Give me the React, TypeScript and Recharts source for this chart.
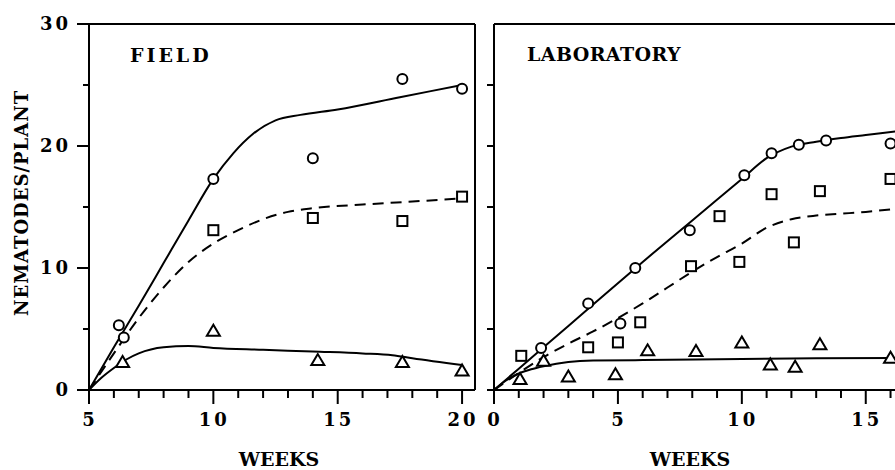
import React from 'react';
import { ComposedChart, Line, Scatter, XAxis, YAxis, ReferenceLine } from 'recharts';

// ---- FIELD panel (weeks 5-20) ----
const fieldWeekTicks = [5, 6, 7, 8, 9, 10, 11, 12, 13, 14, 15, 16, 17, 18, 19, 20];
const fieldCircles = [
  { x: 6.2, y: 5.3 }, { x: 6.4, y: 4.3 }, { x: 10, y: 17.3 },
  { x: 14, y: 19.0 }, { x: 17.6, y: 25.5 }, { x: 20, y: 24.7 },
];
const fieldSquares = [
  { x: 10, y: 13.1 }, { x: 14, y: 14.1 }, { x: 17.6, y: 13.85 }, { x: 20, y: 15.85 },
];
const fieldTriangles = [
  { x: 6.35, y: 2.3 }, { x: 10, y: 4.85 }, { x: 14.2, y: 2.45 }, { x: 17.6, y: 2.3 }, { x: 20, y: 1.6 },
];
const fieldCircleCurve = [
  { x: 5, y: 0 }, { x: 6, y: 3.5 }, { x: 7, y: 6.9 }, { x: 8, y: 10.4 }, { x: 9, y: 13.9 },
  { x: 10, y: 17.3 }, { x: 10.8, y: 19.4 }, { x: 11.6, y: 21.0 }, { x: 12.5, y: 22.1 },
  { x: 13.5, y: 22.55 }, { x: 15, y: 23.0 }, { x: 17.5, y: 24.0 }, { x: 20, y: 25.0 },
];
const fieldSquareCurve = [
  { x: 5, y: 0 }, { x: 6, y: 3.0 }, { x: 7, y: 5.9 }, { x: 8, y: 8.4 }, { x: 9, y: 10.5 },
  { x: 10, y: 12.0 }, { x: 11, y: 13.1 }, { x: 12, y: 14.0 }, { x: 13, y: 14.6 },
  { x: 14, y: 14.9 }, { x: 16, y: 15.2 }, { x: 18, y: 15.45 }, { x: 20, y: 15.7 },
];
const fieldTriangleCurve = [
  { x: 5, y: 0 }, { x: 5.5, y: 1.0 }, { x: 6, y: 1.8 }, { x: 6.5, y: 2.5 }, { x: 7, y: 3.0 },
  { x: 8, y: 3.5 }, { x: 9, y: 3.6 }, { x: 10, y: 3.45 }, { x: 12, y: 3.3 }, { x: 14, y: 3.15 },
  { x: 16, y: 3.0 }, { x: 17.2, y: 2.85 }, { x: 18, y: 2.6 }, { x: 20, y: 2.05 },
];

// ---- LABORATORY panel (weeks 0-16) ----
const labWeekTicks = [0, 1, 2, 3, 4, 5, 6, 7, 8, 9, 10, 11, 12, 13, 14, 15, 16];
const labCircles = [
  { x: 1.9, y: 3.45 }, { x: 3.8, y: 7.1 }, { x: 5.1, y: 5.45 }, { x: 5.7, y: 10.0 },
  { x: 7.9, y: 13.1 }, { x: 10.1, y: 17.6 }, { x: 11.2, y: 19.4 }, { x: 12.3, y: 20.1 },
  { x: 13.4, y: 20.45 }, { x: 16, y: 20.2 },
];
const labSquares = [
  { x: 1.1, y: 2.8 }, { x: 3.8, y: 3.5 }, { x: 5.0, y: 3.9 }, { x: 5.9, y: 5.55 },
  { x: 7.95, y: 10.15 }, { x: 9.1, y: 14.25 }, { x: 9.9, y: 10.5 }, { x: 11.2, y: 16.05 },
  { x: 12.1, y: 12.1 }, { x: 13.15, y: 16.3 }, { x: 16, y: 17.3 },
];
const labTriangles = [
  { x: 1.05, y: 0.9 }, { x: 2.0, y: 2.4 }, { x: 3.0, y: 1.1 }, { x: 4.9, y: 1.3 },
  { x: 6.2, y: 3.25 }, { x: 8.15, y: 3.2 }, { x: 10, y: 3.9 }, { x: 11.15, y: 2.1 },
  { x: 12.15, y: 1.9 }, { x: 13.15, y: 3.75 }, { x: 16, y: 2.65 },
];
const labCircleCurve = [
  { x: 0, y: 0 }, { x: 2, y: 3.5 }, { x: 4, y: 7.0 }, { x: 6, y: 10.5 }, { x: 8, y: 13.9 },
  { x: 10, y: 17.3 }, { x: 11, y: 19.0 }, { x: 12, y: 19.95 }, { x: 13, y: 20.35 },
  { x: 14, y: 20.65 }, { x: 15, y: 20.9 }, { x: 16.2, y: 21.2 },
];
const labSquareCurve = [
  { x: 0, y: 0 }, { x: 1, y: 1.4 }, { x: 2, y: 2.7 }, { x: 3, y: 3.8 }, { x: 4, y: 4.8 },
  { x: 5, y: 5.9 }, { x: 6, y: 7.1 }, { x: 7, y: 8.4 }, { x: 8, y: 9.7 }, { x: 9, y: 10.9 },
  { x: 10, y: 12.0 }, { x: 11, y: 13.3 }, { x: 12, y: 14.0 }, { x: 13, y: 14.3 },
  { x: 14, y: 14.45 }, { x: 15, y: 14.6 }, { x: 16.2, y: 14.85 },
];
const labTriangleCurve = [
  { x: 0, y: 0 }, { x: 0.5, y: 0.8 }, { x: 1, y: 1.35 }, { x: 1.5, y: 1.7 }, { x: 2, y: 1.95 },
  { x: 3, y: 2.3 }, { x: 4, y: 2.42 }, { x: 6, y: 2.45 }, { x: 10, y: 2.55 }, { x: 13, y: 2.6 },
  { x: 16.2, y: 2.63 },
];

const countTicks = [0, 5, 10, 15, 20, 25, 30];

const INK = '#000';
const FONT = '"DejaVu Serif", serif';

const OpenCircle = (p: any) => (
  <circle cx={p.cx} cy={p.cy} r={5} fill="#fff" stroke={INK} strokeWidth={2} />
);
const OpenSquare = (p: any) => (
  <rect x={p.cx - 5} y={p.cy - 5} width={10} height={10} fill="#fff" stroke={INK} strokeWidth={2} />
);
const OpenTriangle = (p: any) => (
  <polygon
    points={`${p.cx},${p.cy - 6} ${p.cx - 6.5},${p.cy + 5} ${p.cx + 6.5},${p.cy + 5}`}
    fill="#fff" stroke={INK} strokeWidth={2} strokeLinejoin="miter"
  />
);

const makeXTick = (showLabels: boolean) => (props: any) => {
  const { x, y, payload } = props;
  const major = payload.value % 5 === 0;
  return (
    <g>
      <line x1={x} x2={x} y1={y} y2={y + (major ? 14 : 8)} stroke={INK} strokeWidth={2} />
      {major && showLabels && (
        <text x={x + 1} y={y + 30} dy="0.36em" textAnchor="middle" fontFamily={FONT}
          fontWeight="bold" fontSize={18} letterSpacing={3} fill={INK}>
          {payload.value}
        </text>
      )}
    </g>
  );
};

const makeYTick = (withLabels: boolean) => (props: any) => {
  const { x, y, payload } = props;
  const major = payload.value % 10 === 0;
  const len = withLabels ? (major ? 12 : 6) : payload.value === 30 ? 0 : 7;
  return (
    <g>
      {len > 0 && <line x1={x - len} x2={x} y1={y} y2={y} stroke={INK} strokeWidth={2} />}
      {withLabels && major && (
        <text x={x - 18} y={y} dy="0.36em" textAnchor="end" fontFamily={FONT}
          fontWeight="bold" fontSize={18} letterSpacing={3} fill={INK}>
          {payload.value}
        </text>
      )}
    </g>
  );
};

type PanelProps = {
  width: number;
  yAxisWidth: number;
  rightMargin: number;
  domain: [number, number];
  weekTicks: number[];
  withLabels: boolean;
  rightBorder: boolean;
  circles: { x: number; y: number }[];
  squares: { x: number; y: number }[];
  triangles: { x: number; y: number }[];
  circleCurve: { x: number; y: number }[];
  squareCurve: { x: number; y: number }[];
  triangleCurve: { x: number; y: number }[];
};

const Panel = (p: PanelProps) => (
  <ComposedChart width={p.width} height={470} margin={{ top: 24, right: p.rightMargin, bottom: 0, left: 0 }}>
    <XAxis type="number" dataKey="x" domain={p.domain} ticks={p.weekTicks} interval={0}
      allowDataOverflow height={80} tickSize={0} tickMargin={0} tickLine={false}
      axisLine={{ stroke: INK, strokeWidth: 2 }} tick={makeXTick(true)} />
    <YAxis type="number" dataKey="y" domain={[0, 30]} ticks={countTicks} interval={0}
      allowDataOverflow width={p.yAxisWidth} tickSize={0} tickMargin={0} tickLine={false}
      axisLine={{ stroke: INK, strokeWidth: 2 }} tick={makeYTick(p.withLabels)} />
    <ReferenceLine y={30} stroke={INK} strokeWidth={2} />
    {p.rightBorder && <ReferenceLine x={p.domain[1]} stroke={INK} strokeWidth={2} />}
    <Line data={p.circleCurve} dataKey="y" type="monotone" stroke={INK} strokeWidth={2}
      dot={false} activeDot={false} isAnimationActive={false} />
    <Line data={p.squareCurve} dataKey="y" type="monotone" stroke={INK} strokeWidth={2}
      strokeDasharray="11 7" dot={false} activeDot={false} isAnimationActive={false} />
    <Line data={p.triangleCurve} dataKey="y" type="monotone" stroke={INK} strokeWidth={2}
      dot={false} activeDot={false} isAnimationActive={false} />
    <Scatter data={p.circles} dataKey="y" shape={OpenCircle} isAnimationActive={false} />
    <Scatter data={p.squares} dataKey="y" shape={OpenSquare} isAnimationActive={false} />
    <Scatter data={p.triangles} dataKey="y" shape={OpenTriangle} isAnimationActive={false} />
  </ComposedChart>
);

const App = () => {
  const labelStyle = { fontFamily: FONT, fontWeight: 'bold' as const, fill: INK };
  return (
    <div style={{ position: 'absolute', left: 0, top: 0, width: 895, height: 470, overflow: 'hidden', background: '#fff' }}>
      <div style={{ position: 'absolute', left: 0, top: 0 }}>
        <Panel width={480} yAxisWidth={89} rightMargin={5} domain={[5, 20.52]} weekTicks={fieldWeekTicks}
          withLabels rightBorder circles={fieldCircles} squares={fieldSquares} triangles={fieldTriangles}
          circleCurve={fieldCircleCurve} squareCurve={fieldSquareCurve} triangleCurve={fieldTriangleCurve} />
      </div>
      <div style={{ position: 'absolute', left: 440, top: 0 }}>
        <Panel width={455} yAxisWidth={54} rightMargin={0} domain={[0, 16.18]} weekTicks={labWeekTicks}
          withLabels={false} rightBorder={false} circles={labCircles} squares={labSquares} triangles={labTriangles}
          circleCurve={labCircleCurve} squareCurve={labSquareCurve} triangleCurve={labTriangleCurve} />
      </div>
      <svg width={895} height={470} style={{ position: 'absolute', left: 0, top: 0, pointerEvents: 'none' }}>
        <text x={130} y={62} fontSize={19} letterSpacing={3} {...labelStyle}>FIELD</text>
        <text x={527} y={61} fontSize={19} letterSpacing={0.4} {...labelStyle}>LABORATORY</text>
        <text x={279} y={466} fontSize={19} textAnchor="middle" {...labelStyle}>WEEKS</text>
        <text x={690} y={466} fontSize={19} textAnchor="middle" {...labelStyle}>WEEKS</text>
        <text x={0} y={0} fontSize={18} letterSpacing={1} textAnchor="middle"
          transform="translate(28 203) rotate(-90)" {...labelStyle}>NEMATODES/PLANT</text>
      </svg>
    </div>
  );
};

export default App;
